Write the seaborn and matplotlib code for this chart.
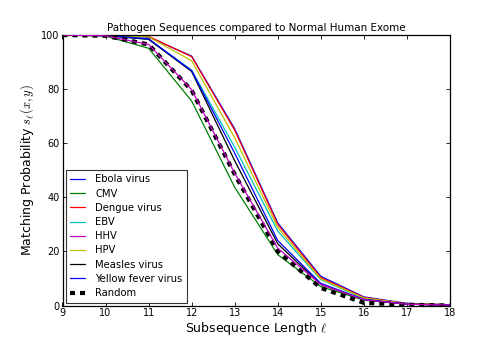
import matplotlib
matplotlib.use("Agg")
import matplotlib.pyplot as plt
import seaborn as sns
import pandas as pd

lengths = [9, 10, 11, 12, 13, 14, 15, 16, 17, 18]

ebola = [100, 99.9, 99.2, 92.2, 65.3, 30.5, 10.8, 3.2, 0.8, 0.3]
cmv = [100, 99.6, 95.1, 75.6, 43.7, 18.8, 7.0, 2.0, 0.5, 0.2]
dengue = [100, 99.9, 99.5, 92.0, 64.8, 30.0, 10.3, 3.0, 0.7, 0.3]
ebv = [100, 99.8, 98.4, 87.0, 58.5, 27.5, 9.6, 2.6, 0.6, 0.2]
hhv = [100, 99.7, 96.5, 79.8, 48.9, 21.2, 7.8, 2.2, 0.5, 0.2]
hpv = [100, 99.9, 99.3, 90.5, 62.0, 28.8, 9.8, 2.8, 0.7, 0.3]
measles = [100, 99.8, 98.4, 86.5, 53.5, 22.8, 7.8, 2.2, 0.5, 0.2]
yellow_fever = [100, 99.8, 98.6, 86.8, 56.3, 24.0, 8.2, 2.3, 0.5, 0.2]
random_seq = [100, 99.7, 96.5, 79.5, 48.5, 20.0, 6.5, 1.0, 0.3, 0.0]

names = ["Ebola virus", "CMV", "Dengue virus", "EBV", "HHV", "HPV",
         "Measles virus", "Yellow fever virus", "Random"]
series = [ebola, cmv, dengue, ebv, hhv, hpv, measles, yellow_fever, random_seq]
colors = ["#0000ff", "#008000", "#ff0000", "#00bfbf", "#bf00bf", "#bfbf00",
          "#000000", "#0000ff", "#000000"]

sns.set_style("ticks")
plt.rcParams["font.family"] = ["DejaVu Sans"]
plt.rcParams["mathtext.fontset"] = "cm"
plt.rcParams["xtick.direction"] = "in"
plt.rcParams["ytick.direction"] = "in"
plt.rcParams["text.color"] = "black"
plt.rcParams["axes.labelcolor"] = "black"
plt.rcParams["xtick.color"] = "black"
plt.rcParams["ytick.color"] = "black"

fig, ax = plt.subplots(figsize=(5, 3.5), dpi=100)
fig.subplots_adjust(left=0.125, right=0.9, bottom=0.127, top=0.9)

for name, vals, col in zip(names, series, colors):
    df = pd.DataFrame({"len": lengths, "p": vals})
    if name == "Random":
        sns.lineplot(data=df, x="len", y="p", ax=ax, color=col, label=name,
                     linewidth=3, dashes=False, zorder=3)
        ax.lines[-1].set_linestyle((0, (1.2, 1.2)))
    else:
        sns.lineplot(data=df, x="len", y="p", ax=ax, color=col, label=name,
                     linewidth=0.9, zorder=2 if name != "HHV" else 4)

ax.set_xlim(9, 18)
ax.set_ylim(0, 100)
ax.set_xticks(range(9, 19))
ax.set_yticks(range(0, 101, 20))
ax.tick_params(axis="both", labelsize=7, top=True, right=True, length=3, width=0.6, pad=2,
               colors="black")
for s in ax.spines.values():
    s.set_linewidth(0.9)
    s.set_color("black")
ax.set_title("Pathogen Sequences compared to Normal Human Exome", fontsize=7.5, pad=3,
             color="black")
ax.set_xlabel(r"Subsequence Length $\ell$", fontsize=9, labelpad=1)
ax.set_ylabel(r"Matching Probability $s_\ell(x,y)$", fontsize=9, labelpad=4)

leg = ax.legend(loc="lower left", fontsize=7.2, fancybox=False, frameon=True,
                handlelength=1.5, handletextpad=1.0, borderaxespad=0.3,
                labelspacing=0.42, borderpad=0.45)
leg.get_frame().set_edgecolor("black")
leg.get_frame().set_linewidth(0.8)
for t in leg.get_texts():
    t.set_color("black")

fig.savefig("out.png", dpi=100)
